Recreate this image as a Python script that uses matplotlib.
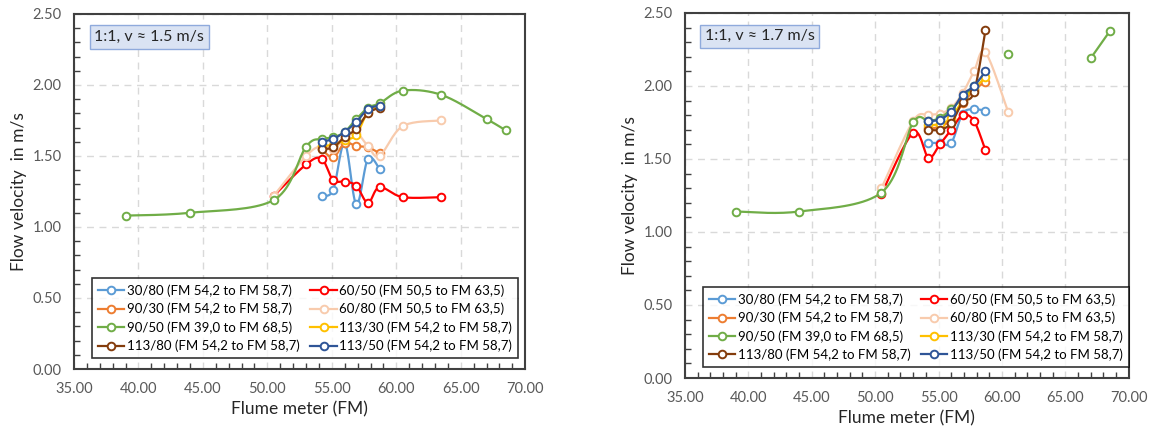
import numpy as np
import matplotlib
matplotlib.use("Agg")
import matplotlib.pyplot as plt
from matplotlib.ticker import MultipleLocator, FormatStrFormatter

plt.rcParams['font.family'] = ['Lato', 'DejaVu Sans']

nan = np.nan

# flume meter positions
fm_short = [54.2, 55.1, 56.0, 56.9, 57.8, 58.7]
fm_6050 = [50.5, 53.0, 54.2, 55.1, 56.0, 56.9, 57.8, 58.7, 60.5, 63.5]
fm_9050 = [39.0, 44.0, 50.5, 53.0, 54.2, 55.1, 56.0, 56.9, 57.8, 58.7, 60.5, 63.5, 67.0, 68.5]

# v ~ 1.5 m/s
v15_3080 = [1.22, 1.26, 1.59, 1.16, 1.48, 1.41]
v15_6050 = [1.22, 1.44, 1.48, 1.33, 1.32, 1.29, 1.17, 1.28, 1.21, 1.21]
v15_9030 = [1.55, 1.49, 1.59, 1.57, 1.56, 1.52]
v15_6080 = [1.22, 1.50, 1.57, 1.55, 1.62, 1.66, 1.57, 1.50, 1.71, 1.75]
v15_9050 = [1.08, 1.10, 1.19, 1.565, 1.62, 1.63, 1.67, 1.76, 1.84, 1.87, 1.96, 1.93, 1.76, 1.68]
v15_11330 = [1.57, 1.58, 1.61, 1.65, 1.81, 1.85]
v15_11380 = [1.55, 1.56, 1.635, 1.69, 1.80, 1.84]
v15_11350 = [1.60, 1.62, 1.67, 1.74, 1.83, 1.855]

# v ~ 1.7 m/s
v17_3080 = [1.61, 1.61, 1.61, 1.81, 1.84, 1.83]
v17_6050 = [1.26, 1.68, 1.51, 1.60, 1.70, 1.80, 1.76, 1.56, nan, nan]
v17_9030 = [1.71, 1.72, 1.77, 1.88, 1.97, 2.03]
v17_6080 = [1.30, 1.76, 1.80, 1.81, 1.85, 1.95, 2.10, 2.23, 1.82, nan]
v17_9050 = [1.14, 1.14, 1.27, 1.75, 1.76, 1.78, 1.84, 1.92, 2.00, nan, 2.22, nan, 2.19, 2.375]
v17_11330 = [1.73, 1.74, 1.78, 1.90, 1.98, 2.06]
v17_11380 = [1.70, 1.70, 1.745, 1.89, 1.96, 2.38]
v17_11350 = [1.76, 1.77, 1.825, 1.94, 2.00, 2.10]

labels = ["30/80 (FM 54,2 to FM 58,7)", "60/50 (FM 50,5 to FM 63,5)",
          "90/30 (FM 54,2 to FM 58,7)", "60/80 (FM 50,5 to FM 63,5)",
          "90/50 (FM 39,0 to FM 68,5)", "113/30 (FM 54,2 to FM 58,7)",
          "113/80 (FM 54,2 to FM 58,7)", "113/50 (FM 54,2 to FM 58,7)"]
colors = ["#5B9BD5", "#FF0000", "#ED7D31", "#F8CBAD",
          "#70AD47", "#FFC000", "#843C0C", "#2F5597"]
xs = [fm_short, fm_6050, fm_short, fm_6050, fm_9050, fm_short, fm_short, fm_short]
left_ys = [v15_3080, v15_6050, v15_9030, v15_6080, v15_9050, v15_11330, v15_11380, v15_11350]
right_ys = [v17_3080, v17_6050, v17_9030, v17_6080, v17_9050, v17_11330, v17_11380, v17_11350]


def smooth(x, y, n=20):
    # excel-like smoothed line (catmull-rom as bezier)
    x = np.asarray(x, float)
    y = np.asarray(y, float)
    if len(x) < 2:
        return x, y
    px, py = [], []
    for i in range(len(x) - 1):
        i0 = max(i - 1, 0)
        i3 = min(i + 2, len(x) - 1)
        p0 = np.array([x[i0], y[i0]])
        p1 = np.array([x[i], y[i]])
        p2 = np.array([x[i + 1], y[i + 1]])
        p3 = np.array([x[i3], y[i3]])
        c1 = p1 + (p2 - p0) / 6
        c2 = p2 - (p3 - p1) / 6
        t = np.linspace(0, 1, n)[:, None]
        b = (1 - t) ** 3 * p1 + 3 * (1 - t) ** 2 * t * c1 + 3 * (1 - t) * t ** 2 * c2 + t ** 3 * p2
        px.extend(b[:, 0])
        py.extend(b[:, 1])
    return np.array(px), np.array(py)


def draw(ax, ys, note):
    handles = []
    for k, (x, y) in enumerate(zip(xs, ys)):
        x = np.asarray(x, float)
        y = np.asarray(y, float)
        ok = ~np.isnan(y)
        # split into runs without gaps
        idx = np.where(ok)[0]
        runs = np.split(idx, np.where(np.diff(idx) != 1)[0] + 1)
        for r in runs:
            if len(r) > 1:
                sx, sy = smooth(x[r], y[r])
                ax.plot(sx, sy, color=colors[k], lw=1.6, zorder=3 + k, solid_capstyle='round')
        ax.plot(x[ok], y[ok], ls='none', marker='o', ms=5.5, mfc='white', mec=colors[k],
                mew=1.4, zorder=3 + k)
        h, = ax.plot([], [], color=colors[k], lw=1.6, marker='o', ms=5.5, mfc='white',
                     mec=colors[k], mew=1.4, label=labels[k])
        handles.append(h)

    ax.set_xlim(35, 70)
    ax.set_ylim(0, 2.5)
    ax.xaxis.set_major_locator(MultipleLocator(5))
    ax.xaxis.set_minor_locator(MultipleLocator(1))
    ax.yaxis.set_major_locator(MultipleLocator(0.5))
    ax.yaxis.set_minor_locator(MultipleLocator(0.1))
    ax.xaxis.set_major_formatter(FormatStrFormatter('%.2f'))
    ax.yaxis.set_major_formatter(FormatStrFormatter('%.2f'))
    ax.tick_params(which='major', length=0, pad=9, labelsize=10.5, labelcolor='#595959')
    ax.tick_params(which='minor', direction='in', length=4, width=1, color='#404040')
    ax.grid(True, which='major', color='#D9D9D9', ls=(0, (5, 4)), lw=1)
    ax.set_axisbelow(True)
    for s in ax.spines.values():
        s.set_color('#404040')
        s.set_linewidth(1.5)
    ax.set_xlabel("Flume meter (FM)", fontsize=12.5, color='#262626')
    ax.set_ylabel("Flow velocity  in m/s", fontsize=12.5, color='#262626')

    order = [0, 2, 4, 6, 1, 3, 5, 7]
    leg = ax.legend([handles[i] for i in order], [labels[i] for i in order], ncol=2,
                    loc='lower left', bbox_to_anchor=(0.04, 0.03), fontsize=9.5,
                    frameon=True, fancybox=False, edgecolor='black', handlelength=2.0,
                    handletextpad=0.2, columnspacing=0.8, labelspacing=0.45,
                    borderpad=0.45, borderaxespad=0)
    leg.get_frame().set_linewidth(1.2)
    leg.set_zorder(20)

    ax.text(0.045, 0.955, note, transform=ax.transAxes, fontsize=11.5, color='#262626',
            va='top', ha='left', zorder=21,
            bbox=dict(boxstyle='square,pad=0.3', fc='#DAE3F3', ec='#8FAADC', lw=1))


fig = plt.figure(figsize=(11.51, 4.32), dpi=100)
ax1 = fig.add_axes([0.0643, 0.1458, 0.392, 0.822])
ax2 = fig.add_axes([0.595, 0.125, 0.3857, 0.845])

draw(ax1, left_ys, "1:1, v ≈ 1.5 m/s")
draw(ax2, right_ys, "1:1, v ≈ 1.7 m/s")

fig.savefig("out.png", dpi=100)
